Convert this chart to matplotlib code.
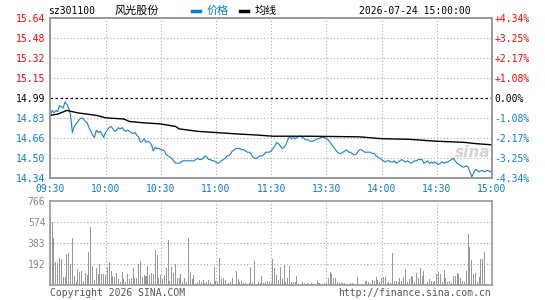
import matplotlib.pyplot as plt
import numpy as np

plt.rcParams.update({"font.family": ["DejaVu Sans Mono"], "font.size": 7})

# data
prev_close = 14.99
price = [
    14.85, 14.89, 14.87, 14.89, 14.88, 14.93, 14.92, 14.91, 14.96, 14.94,
    14.91, 14.85, 14.71, 14.76, 14.78, 14.80, 14.82, 14.83, 14.82, 14.80,
    14.79, 14.75, 14.72, 14.69, 14.67, 14.73, 14.71, 14.72, 14.70, 14.67,
    14.71, 14.73, 14.75, 14.76, 14.74, 14.72, 14.73, 14.75, 14.74, 14.75,
    14.73, 14.72, 14.73, 14.72, 14.71, 14.70, 14.71, 14.69, 14.67, 14.63,
    14.64, 14.66, 14.63, 14.64, 14.63, 14.61, 14.56, 14.59, 14.58, 14.58,
    14.57, 14.57, 14.56, 14.53, 14.52, 14.51, 14.50, 14.48, 14.46, 14.46,
    14.46, 14.47, 14.48, 14.48, 14.48, 14.48, 14.48, 14.48, 14.48, 14.49,
    14.50, 14.49, 14.49, 14.50, 14.52, 14.51, 14.49, 14.49, 14.48, 14.48,
    14.47, 14.46, 14.47, 14.48, 14.49, 14.50, 14.52, 14.52, 14.54, 14.56,
    14.57, 14.58, 14.58, 14.58, 14.57, 14.57, 14.56, 14.55, 14.55, 14.54,
    14.51, 14.50, 14.50, 14.51, 14.52, 14.52, 14.53, 14.55, 14.55, 14.55,
    14.56, 14.58, 14.60, 14.63, 14.62, 14.60, 14.58, 14.59, 14.61, 14.65,
    14.68, 14.66, 14.67, 14.66, 14.67, 14.68, 14.68, 14.67, 14.66, 14.65,
    14.65, 14.64, 14.64, 14.64, 14.65, 14.66, 14.66, 14.67, 14.67, 14.67,
    14.66, 14.65, 14.63, 14.61, 14.59, 14.57, 14.55, 14.54, 14.54, 14.55,
    14.56, 14.57, 14.55, 14.55, 14.54, 14.53, 14.53, 14.55, 14.57, 14.57,
    14.56, 14.55, 14.55, 14.55, 14.55, 14.54, 14.54, 14.52, 14.51, 14.50,
    14.49, 14.48, 14.47, 14.48, 14.48, 14.47, 14.47, 14.48, 14.46, 14.47,
    14.48, 14.49, 14.48, 14.47, 14.48, 14.47, 14.46, 14.47, 14.48, 14.48,
    14.49, 14.49, 14.49, 14.46, 14.47, 14.48, 14.46, 14.47, 14.46, 14.47,
    14.46, 14.45, 14.46, 14.47, 14.46, 14.47, 14.47, 14.48, 14.49, 14.50,
    14.48, 14.46, 14.45, 14.44, 14.43, 14.43, 14.44, 14.43, 14.39, 14.35,
    14.38, 14.41, 14.40, 14.39, 14.40, 14.40, 14.39, 14.40, 14.40, 14.39,
    14.40,
]
avg_min = [0, 4, 9, 12, 15, 20, 25, 30, 40, 43, 50, 60, 68, 70, 80, 90,
           100, 112, 121, 141, 168, 180, 195, 209, 225, 231, 240]
avg_price = [14.85, 14.86, 14.89, 14.88, 14.87, 14.86, 14.85, 14.83, 14.82,
             14.80, 14.79, 14.78, 14.76, 14.74, 14.72, 14.71, 14.70, 14.69,
             14.68, 14.68, 14.675, 14.66, 14.655, 14.64, 14.63, 14.62, 14.61]
volume = [
    600, 570, 430, 210, 205, 250, 237, 76, 76, 285,
    290, 190, 430, 85, 30, 145, 120, 128, 36, 106,
    91, 304, 529, 176, 45, 152, 103, 188, 100, 103,
    91, 167, 207, 128, 85, 70, 106, 52, 30, 115,
    55, 27, 97, 52, 67, 152, 67, 67, 188, 219,
    76, 91, 85, 170, 91, 109, 97, 319, 274, 67,
    91, 55, 91, 152, 410, 36, 167, 106, 188, 67,
    67, 97, 30, 67, 24, 430, 115, 55, 91, 12,
    30, 45, 24, 45, 15, 24, 49, 24, 12, 167,
    36, 24, 250, 55, 67, 45, 12, 15, 24, 67,
    12, 128, 55, 24, 36, 15, 15, 12, 21, 167,
    15, 219, 12, 24, 15, 85, 21, 24, 36, 24,
    15, 237, 158, 91, 45, 167, 55, 182, 30, 61,
    176, 30, 24, 30, 85, 12, 12, 24, 15, 12,
    21, 12, 21, 12, 12, 36, 15, 12, 12, 15,
    18, 61, 115, 97, 67, 67, 30, 15, 21, 15,
    21, 12, 12, 15, 18, 12, 12, 73, 12, 6,
    12, 36, 36, 30, 6, 45, 40, 76, 45, 30,
    61, 73, 76, 20, 30, 20, 289, 36, 36, 30,
    61, 36, 73, 146, 30, 55, 82, 73, 30, 106,
    61, 152, 85, 128, 12, 30, 55, 36, 24, 40,
    97, 115, 97, 30, 137, 67, 24, 36, 15, 85,
    85, 106, 97, 61, 36, 30, 128, 462, 350, 228,
    97, 106, 30, 76, 237, 237, 298, 0, 0, 0,
    0,
]
time_labels = ["09:30", "10:00", "10:30", "11:00", "11:30",
               "13:30", "14:00", "14:30", "15:00"]
price_ticks = [15.64, 15.4775, 15.315, 15.1525, 14.99, 14.8275, 14.665, 14.5025, 14.34]
price_labels = ["15.64", "15.48", "15.32", "15.15", "14.99", "14.83", "14.66", "14.50", "14.34"]
pct_labels = ["+4.34%", "+3.25%", "+2.17%", "+1.08%", "0.00%",
              "-1.08%", "-2.17%", "-3.25%", "-4.34%"]
vol_ticks = [192, 383, 574, 766]

RED = "#ff0000"
BLUE = "#0a7ccc"
GRID = "#aaaaaa"
EDGE = "#999999"
minutes = np.arange(len(price))

fig = plt.figure(figsize=(5.45, 3.0), dpi=100)
ax = fig.add_axes([50.3 / 545, 1 - 178 / 300, 441.7 / 545, 159.7 / 300])
axv = fig.add_axes([50.3 / 545, 1 - 285 / 300, 441.7 / 545, 84 / 300])

# price panel
ax.plot(minutes, price, color="#1382d4", lw=0.8, zorder=3)
ax.plot(avg_min, avg_price, color="black", lw=1.0, zorder=3)
ax.axhline(prev_close, color="black", lw=0.9, ls=(0, (2, 2)), zorder=2)
ax.set_xlim(0, 240)
ax.set_ylim(14.34, 15.64)
ax.set_xticks(np.arange(0, 241, 30))
ax.set_xticklabels(time_labels, color=BLUE)
ax.set_yticks(price_ticks)
ax.set_yticklabels(price_labels)
for lab, v in zip(ax.get_yticklabels(), price_ticks):
    lab.set_color(RED if v > prev_close + 1e-6 else ("black" if abs(v - prev_close) < 1e-6 else BLUE))
ax.tick_params(length=0, pad=3.5, labelsize=7)
ax.tick_params(axis="x", pad=4)
for v in price_ticks[1:-1]:
    if abs(v - prev_close) > 1e-6:
        ax.axhline(v, color=GRID, lw=0.8, ls=(0, (1, 2)), zorder=1)
for t in np.arange(30, 240, 30):
    ax.axvline(t, color=GRID, lw=0.8, ls=(0, (1, 2)), zorder=1)

axr = ax.twinx()
axr.set_ylim(14.34, 15.64)
axr.set_yticks(price_ticks)
axr.set_yticklabels(pct_labels)
for lab, v in zip(axr.get_yticklabels(), price_ticks):
    lab.set_color(RED if v > prev_close + 1e-6 else ("black" if abs(v - prev_close) < 1e-6 else BLUE))
axr.tick_params(length=0, pad=2, labelsize=7)

for a in (ax, axr, axv):
    for s in a.spines.values():
        s.set_color(EDGE)
        s.set_linewidth(1.2)

# volume panel
axv.bar(minutes, volume, width=0.55, color="#999999", zorder=2)
axv.set_xlim(0, 240)
axv.set_ylim(0, 766)
axv.set_xticks([])
axv.set_yticks(vol_ticks)
axv.set_yticklabels([str(v) for v in vol_ticks], color="#888888")
axv.tick_params(length=0, pad=3.5, labelsize=7)
for v in vol_ticks[:-1]:
    axv.axhline(v, color=GRID, lw=0.8, ls=(0, (1, 2)), zorder=1)
for t in np.arange(30, 240, 30):
    axv.axvline(t, color=GRID, lw=0.8, ls=(0, (1, 2)), zorder=1)

# header
fig.text(48 / 545, 1 - 11 / 300, "sz301100", fontsize=7, va="center")
fig.text(115 / 545, 1 - 11 / 300, "风光股份", fontsize=8, va="center",
         family=["Noto Sans CJK SC", "DejaVu Sans"])
fig.add_artist(plt.Line2D([192 / 545, 200 / 545], [1 - 11 / 300] * 2, color=BLUE, lw=2.5))
fig.text(207 / 545, 1 - 11 / 300, "价格", fontsize=8, va="center", color=BLUE,
         family=["Noto Sans CJK SC", "DejaVu Sans"])
fig.add_artist(plt.Line2D([240 / 545, 248 / 545], [1 - 11 / 300] * 2, color="black", lw=2.5))
fig.text(255 / 545, 1 - 11 / 300, "均线", fontsize=8, va="center",
         family=["Noto Sans CJK SC", "DejaVu Sans"])
fig.text(471 / 545, 1 - 11 / 300, "2026-07-24 15:00:00", fontsize=7, va="center", ha="right")

# watermark and footer
ax.text(0.955, 0.16, "sina", transform=ax.transAxes, fontsize=11, color="#c8c8c8",
        style="italic", weight="bold", ha="center", va="center", family="DejaVu Sans",
        alpha=0.8, zorder=2)
fig.text(50 / 545, 1 - 293 / 300, "Copyright 2026 SINA.COM", fontsize=7, va="center", color="#555555")
fig.text(491 / 545, 1 - 293 / 300, "http://finance.sina.com.cn", fontsize=7, va="center",
         ha="right", color="#555555")

plt.savefig("out.png", dpi=100)
